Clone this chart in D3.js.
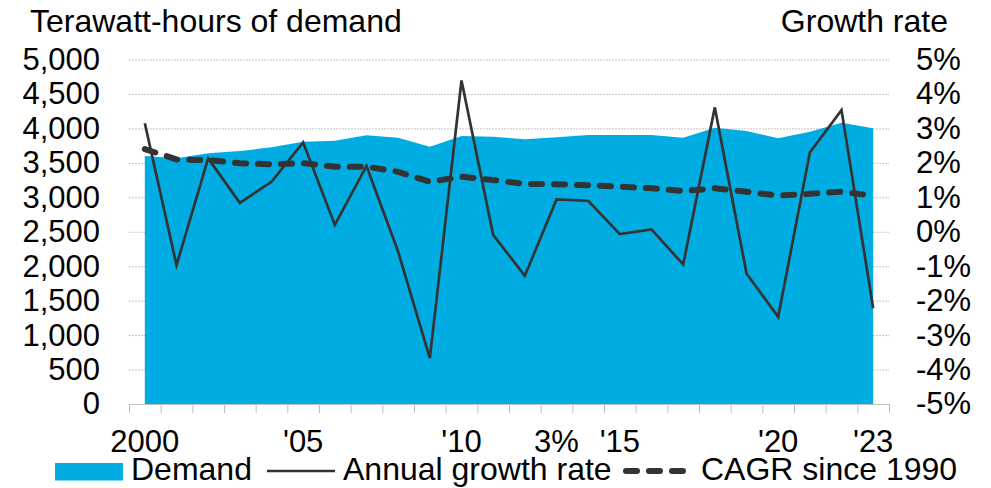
<!DOCTYPE html>
<html>
<head>
<meta charset="utf-8">
<script src="https://cdn.jsdelivr.net/npm/d3@7"></script>
<style>
  body { margin: 0; background: #fff; }
  svg { display: block; font-family: "Liberation Sans", Arial, sans-serif; }
</style>
</head>
<body>
<div id="chart"></div>
<script>
// data
var years = d3.range(2000, 2024);
var demand = [3600, 3566, 3638, 3672, 3725, 3807, 3822, 3900, 3866, 3735, 3890, 3880,
              3842, 3871, 3904, 3904, 3904, 3866, 4010, 3962, 3856, 3952, 4083, 4001];
var growth = [3.15, -0.97, 2.13, 0.84, 1.45, 2.59, 0.2, 1.91, -0.58, -3.67, 4.39, -0.09,
              -1.28, 0.94, 0.9, -0.07, 0.07, -0.95, 3.61, -1.21, -2.47, 2.3, 3.53, -2.22];
var cagr = [2.4, 2.1, 2.08, 1.99, 1.96, 1.99, 1.89, 1.89, 1.74, 1.45, 1.6, 1.5,
            1.39, 1.38, 1.35, 1.31, 1.26, 1.18, 1.26, 1.16, 1.05, 1.1, 1.16, 1.05];
var leftTicks = [0, 500, 1000, 1500, 2000, 2500, 3000, 3500, 4000, 4500, 5000];
var rightTicks = [-5, -4, -3, -2, -1, 0, 1, 2, 3, 4, 5];
var xTickYears = [2000, 2005, 2010, 2013, 2015, 2020, 2023];
var xTickText = ["2000", "'05", "'10", "3%", "'15", "'20", "'23"];

var W = 991, H = 488;
var margin = {top: 59.5, right: 102, bottom: 84, left: 129};
var plotW = W - margin.left - margin.right,
    plotH = H - margin.top - margin.bottom;

var BLUE = "#00ade3", DARK = "#333333", GRID = "#c4c4c4";
var FS = "31px", FS_BIG = "32px";

var svg = d3.select("#chart").append("svg")
  .attr("width", W).attr("height", H);

var g = svg.append("g")
  .attr("transform", "translate(" + margin.left + "," + margin.top + ")");

var x = d3.scaleBand().domain(years).range([0, plotW]).padding(0);
var cx = function(d) { return x(d) + x.bandwidth() / 2; };
var yL = d3.scaleLinear().domain([0, 5000]).range([plotH, 0]);
var yR = d3.scaleLinear().domain([-5, 5]).range([plotH, 0]);

// gridlines
g.append("g")
  .selectAll("line")
  .data(leftTicks.slice(1))
  .enter().append("line")
  .attr("x1", 0).attr("x2", plotW)
  .attr("y1", function(d) { return yL(d) + 0.5; })
  .attr("y2", function(d) { return yL(d) + 0.5; })
  .attr("stroke", GRID).attr("stroke-width", 1)
  .attr("stroke-dasharray", "2,1");

// demand area
var area = d3.area()
  .x(function(d, i) { return cx(years[i]); })
  .y0(yL(0))
  .y1(function(d) { return yL(d); });

g.append("path").datum(demand)
  .attr("d", area)
  .attr("fill", BLUE);

// annual growth
var line = d3.line()
  .x(function(d, i) { return cx(years[i]); })
  .y(function(d) { return yR(d); });

g.append("path").datum(growth)
  .attr("d", line)
  .attr("fill", "none").attr("stroke", DARK)
  .attr("stroke-width", 2.7).attr("stroke-linejoin", "miter");

// CAGR
g.append("path").datum(cagr)
  .attr("d", line)
  .attr("fill", "none").attr("stroke", DARK)
  .attr("stroke-width", 6).attr("stroke-linecap", "round")
  .attr("stroke-dasharray", "11,12");

// bottom axis line + boundary ticks
g.append("line")
  .attr("x1", 0).attr("x2", plotW)
  .attr("y1", plotH + 0.5).attr("y2", plotH + 0.5)
  .attr("stroke", "#bfbfbf").attr("stroke-width", 1);

g.append("g")
  .selectAll("line")
  .data(years.concat([null]))
  .enter().append("line")
  .attr("x1", function(d) { return (d === null ? plotW : x(d)) + 0.5; })
  .attr("x2", function(d) { return (d === null ? plotW : x(d)) + 0.5; })
  .attr("y1", plotH).attr("y2", plotH + 9)
  .attr("stroke", "#bfbfbf").attr("stroke-width", 1);

// x labels
var xAxis = g.append("g")
  .attr("transform", "translate(0," + plotH + ")")
  .call(d3.axisBottom(x)
    .tickValues(xTickYears)
    .tickSize(0)
    .tickPadding(26)
    .tickFormat(function(d) { return xTickText[xTickYears.indexOf(d)]; }));
xAxis.select(".domain").remove();
xAxis.selectAll("text").attr("font-size", FS).attr("fill", "#000")
  .attr("font-family", "Liberation Sans, Arial, sans-serif");

// left axis labels
var yAxisL = g.append("g")
  .call(d3.axisLeft(yL).tickValues(leftTicks).tickSize(0).tickPadding(29)
    .tickFormat(d3.format(",")));
yAxisL.select(".domain").remove();
yAxisL.selectAll("text").attr("font-size", FS).attr("fill", "#000")
  .attr("font-family", "Liberation Sans, Arial, sans-serif");

// right axis labels
var yAxisR = g.append("g")
  .attr("transform", "translate(" + plotW + ",0)")
  .call(d3.axisRight(yR).tickValues(rightTicks).tickSize(0).tickPadding(27)
    .tickFormat(function(d) { return d + "%"; }));
yAxisR.select(".domain").remove();
yAxisR.selectAll("text").attr("font-size", FS).attr("fill", "#000")
  .attr("font-family", "Liberation Sans, Arial, sans-serif");

// axis titles
svg.append("text").attr("x", 30).attr("y", 31.5)
  .attr("font-size", FS_BIG).text("Terawatt-hours of demand");
svg.append("text").attr("x", 948).attr("y", 31.5)
  .attr("text-anchor", "end").attr("font-size", FS_BIG).text("Growth rate");

// legend
var leg = svg.append("g");
leg.append("rect").attr("x", 55).attr("y", 463).attr("width", 68).attr("height", 17.5)
  .attr("fill", BLUE);
leg.append("text").attr("x", 131).attr("y", 480).attr("font-size", FS_BIG).text("Demand");
leg.append("line").attr("x1", 267).attr("x2", 335).attr("y1", 471).attr("y2", 471)
  .attr("stroke", DARK).attr("stroke-width", 2.7);
leg.append("text").attr("x", 343).attr("y", 480).attr("font-size", FS_BIG).text("Annual growth rate");
leg.append("line").attr("x1", 626).attr("x2", 688).attr("y1", 471).attr("y2", 471)
  .attr("stroke", DARK).attr("stroke-width", 6).attr("stroke-linecap", "round")
  .attr("stroke-dasharray", "11,12");
leg.append("text").attr("x", 701).attr("y", 480).attr("font-size", FS_BIG).text("CAGR since 1990");
</script>
</body>
</html>
